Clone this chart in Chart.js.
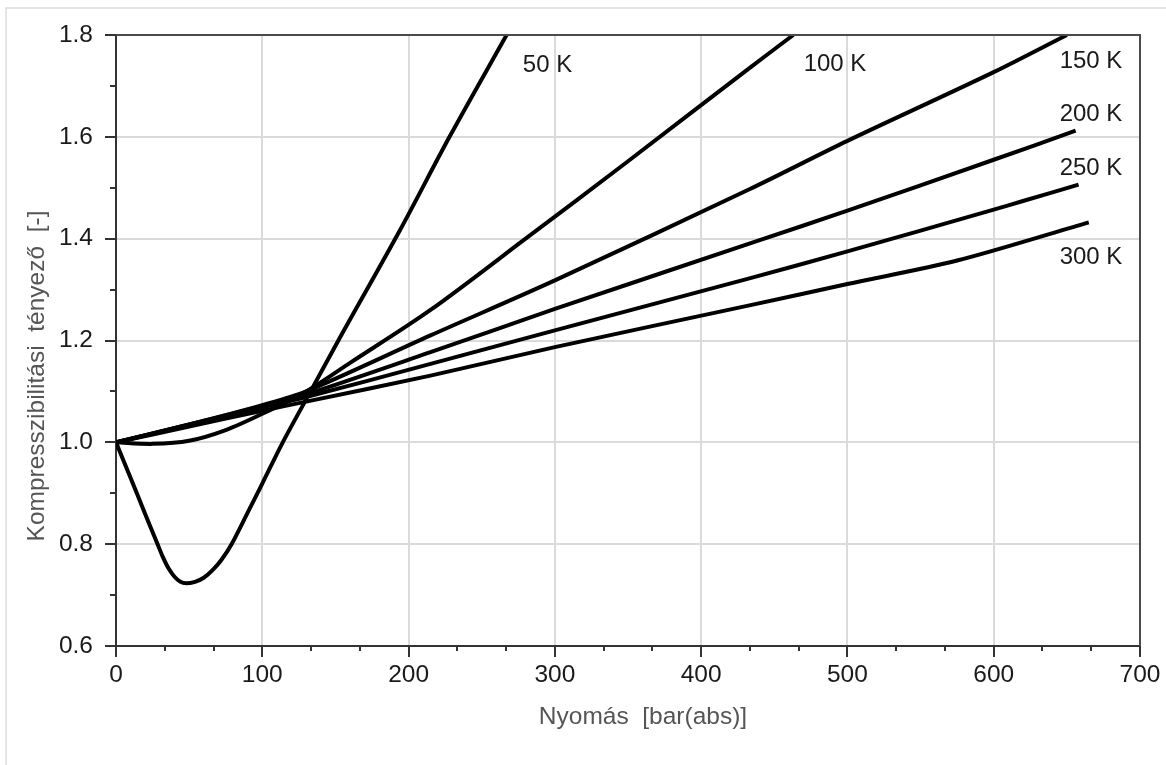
<!DOCTYPE html>
<html>
<head>
<meta charset="utf-8">
<script src="https://cdn.jsdelivr.net/npm/chart.js@4.4.1/dist/chart.umd.min.js"></script>
<style>
  html, body { margin: 0; padding: 0; background: #fff; }
  canvas { display: block; }
</style>
</head>
<body>
<canvas id="chart" width="1166" height="765"></canvas>
<script>
// Compressibility factor of hydrogen vs. absolute pressure, per isotherm
const p50  = [0, 10, 20, 28, 32, 36, 40, 44, 48, 54, 60, 66, 72, 79, 90, 100, 114, 133, 152, 194, 228, 267];
const z50  = [1.0, 0.93, 0.859, 0.803, 0.775, 0.752, 0.736, 0.726, 0.723, 0.726, 0.734, 0.749, 0.769, 0.80, 0.862, 0.919, 1.0, 1.10, 1.20, 1.416, 1.60, 1.80];

const p100 = [0, 25, 50, 75, 100, 130, 160, 215, 280, 350, 433, 463];
const z100 = [1.0, 0.997, 1.003, 1.024, 1.056, 1.10, 1.156, 1.26, 1.40, 1.552, 1.735, 1.80];

const p150 = [0, 50, 100, 130, 215, 300, 433, 500, 600, 650];
const z150 = [1.0, 1.035, 1.073, 1.10, 1.21, 1.318, 1.497, 1.592, 1.727, 1.80];

const p200 = [0, 50, 100, 130, 215, 300, 438, 500, 600, 656];
const z200 = [1.0, 1.035, 1.071, 1.094, 1.177, 1.262, 1.395, 1.455, 1.555, 1.612];

const p250 = [0, 50, 100, 130, 215, 300, 433, 500, 600, 620, 658];
const z250 = [1.0, 1.034, 1.069, 1.089, 1.154, 1.22, 1.322, 1.375, 1.457, 1.474, 1.506];

const p300 = [0, 50, 100, 130, 215, 300, 433, 500, 575, 665];
const z300 = [1.0, 1.031, 1.062, 1.08, 1.131, 1.187, 1.269, 1.311, 1.357, 1.432];

const seriesNames = ['50 K', '100 K', '150 K', '200 K', '250 K', '300 K'];
const xTicks = [0, 100, 200, 300, 400, 500, 600, 700];
const yTicks = [0.6, 0.8, 1.0, 1.2, 1.4, 1.6, 1.8];

const xTitle = 'Nyomás  [bar(abs)]';
const yTitle = 'Kompresszibilitási  tényező  [-]';

const FONT = "'Liberation Sans', Arial, sans-serif";

const series = [[p50, z50], [p100, z100], [p150, z150], [p200, z200], [p250, z250], [p300, z300]];

// Where each isotherm's name is written, in data units (pressure, Z)
const nameAnchors = {
  '50 K':  [295, 1.741],
  '100 K': [491.5, 1.742],
  '150 K': [666.5, 1.749],
  '200 K': [666.5, 1.644],
  '250 K': [666.5, 1.539],
  '300 K': [666.5, 1.363]
};

const decorations = {
  id: 'decorations',
  beforeDraw(chart) {
    const ctx = chart.ctx;
    ctx.save();
    ctx.strokeStyle = '#dddddd';
    ctx.lineWidth = 1.5;
    ctx.beginPath();
    ctx.moveTo(6, chart.height);
    ctx.lineTo(6, 8);
    ctx.lineTo(chart.width, 8);
    ctx.stroke();
    ctx.restore();
  },
  afterDraw(chart) {
    const { ctx, chartArea: a, scales } = chart;
    const x = scales.x, y = scales.y;
    ctx.save();

    // top and right frame of the plot box
    ctx.strokeStyle = '#4a4a4a';
    ctx.lineWidth = 2;
    ctx.beginPath();
    ctx.moveTo(a.left, a.top);
    ctx.lineTo(a.right, a.top);
    ctx.lineTo(a.right, a.bottom);
    ctx.stroke();

    // minor ticks: thirds on the pressure axis, halves on the Z axis
    ctx.strokeStyle = '#333';
    ctx.lineWidth = 2;
    ctx.beginPath();
    for (let i = 0; i < xTicks.length - 1; i++) {
      const step = (xTicks[i + 1] - xTicks[i]) / 3;
      for (let k = 1; k < 3; k++) {
        const px = Math.round(x.getPixelForValue(xTicks[i] + k * step));
        ctx.moveTo(px, a.bottom);
        ctx.lineTo(px, a.bottom + 5);
      }
    }
    for (let i = 0; i < yTicks.length - 1; i++) {
      const py = Math.round(y.getPixelForValue((yTicks[i] + yTicks[i + 1]) / 2));
      ctx.moveTo(a.left, py);
      ctx.lineTo(a.left - 6, py);
    }
    ctx.stroke();

    // isotherm names
    ctx.fillStyle = '#1a1a1a';
    ctx.font = '24px ' + FONT;
    ctx.textAlign = 'center';
    ctx.textBaseline = 'middle';
    seriesNames.forEach(name => {
      const [pv, zv] = nameAnchors[name];
      ctx.fillText(name, x.getPixelForValue(pv), y.getPixelForValue(zv));
    });

    // axis titles
    ctx.fillStyle = '#555';
    ctx.font = '24.5px ' + FONT;
    ctx.fillText(xTitle, 643, 717);
    ctx.translate(37, 376);
    ctx.rotate(-Math.PI / 2);
    ctx.fillText(yTitle, 0, 0);
    ctx.restore();
  }
};

new Chart(document.getElementById('chart'), {
  type: 'line',
  data: {
    datasets: series.map(([ps, zs], i) => ({
      label: seriesNames[i],
      data: ps.map((p, j) => ({ x: p, y: zs[j] })),
      borderColor: '#000',
      borderWidth: 4,
      pointRadius: 0,
      fill: false,
      tension: 0.3
    }))
  },
  options: {
    responsive: false,
    animation: false,
    devicePixelRatio: 1,
    layout: { padding: { top: 35, right: 26, left: 0, bottom: 0 } },
    plugins: { legend: { display: false }, tooltip: { enabled: false } },
    scales: {
      x: {
        type: 'linear',
        min: 0,
        max: 700,
        afterBuildTicks: s => { s.ticks = xTicks.map(v => ({ value: v })); },
        afterFit: s => { s.height = 119; },
        grid: { color: '#dadada', lineWidth: 2, tickColor: '#333', tickWidth: 2, tickLength: 11 },
        border: { color: '#333', width: 2 },
        ticks: { color: '#1a1a1a', font: { family: FONT, size: 24.5 }, padding: 4, maxRotation: 0, callback: v => String(v) }
      },
      y: {
        type: 'linear',
        min: 0.6,
        max: 1.8,
        afterBuildTicks: s => { s.ticks = yTicks.map(v => ({ value: v })); },
        afterFit: s => { s.width = 116; },
        grid: { color: '#dadada', lineWidth: 2, tickColor: '#333', tickWidth: 2, tickLength: 11 },
        border: { color: '#333', width: 2 },
        ticks: { color: '#1a1a1a', font: { family: FONT, size: 24.5 }, padding: 12, callback: v => Number(v).toFixed(1) }
      }
    }
  },
  plugins: [decorations]
});
</script>
</body>
</html>
